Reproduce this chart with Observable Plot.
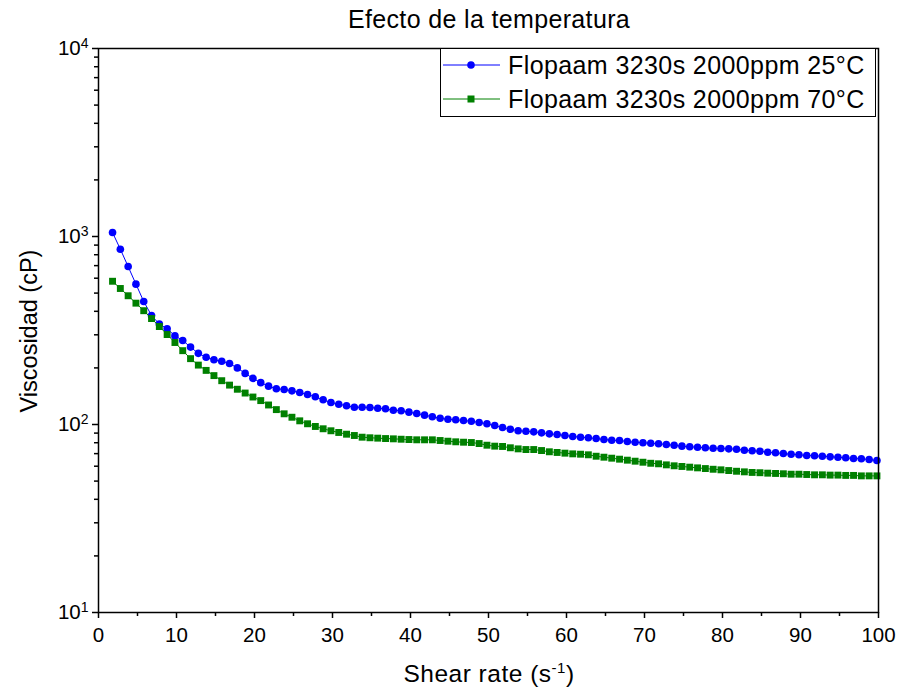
<!DOCTYPE html>
<html>
<head>
<meta charset="utf-8">
<script src="https://cdn.jsdelivr.net/npm/d3@7"></script>
<script src="https://cdn.jsdelivr.net/npm/@observablehq/plot@0.6"></script>
<style>
  html, body { margin: 0; padding: 0; background: #fff; }
  #chart { width: 897px; height: 691px; }
</style>
</head>
<body>
<div id="chart"></div>
<script>
// ---- data ----
const titleText = "Efecto de la temperatura";
const seriesNames = ["Flopaam 3230s 2000ppm 25°C", "Flopaam 3230s 2000ppm 70°C"];
const seriesColors = ["#0000ff", "#008000"];

const shearRate = [
  1.8, 2.8, 3.8, 4.8, 5.8, 6.8, 7.8, 8.8, 9.8, 10.8,
  11.8, 12.8, 13.8, 14.8, 15.8, 16.8, 17.8, 18.8, 19.8, 20.8,
  21.8, 22.8, 23.8, 24.8, 25.8, 26.8, 27.8, 28.8, 29.8, 30.8,
  31.8, 32.8, 33.8, 34.8, 35.8, 36.8, 37.8, 38.8, 39.8, 40.8,
  41.8, 42.8, 43.8, 44.8, 45.8, 46.8, 47.8, 48.8, 49.8, 50.8,
  51.8, 52.8, 53.8, 54.8, 55.8, 56.8, 57.8, 58.8, 59.8, 60.8,
  61.8, 62.8, 63.8, 64.8, 65.8, 66.8, 67.8, 68.8, 69.8, 70.8,
  71.8, 72.8, 73.8, 74.8, 75.8, 76.8, 77.8, 78.8, 79.8, 80.8,
  81.8, 82.8, 83.8, 84.8, 85.8, 86.8, 87.8, 88.8, 89.8, 90.8,
  91.8, 92.8, 93.8, 94.8, 95.8, 96.8, 97.8, 98.8, 99.8
];

const visc25 = [
  1050, 856, 692, 558, 451, 380, 342, 323, 296, 280,
  258, 239, 228, 221, 217, 211, 200, 187, 176, 167,
  160, 155, 153.5, 151, 148, 144.4, 140.4, 135.3, 130.9, 128.2,
  125.8, 123.6, 123.6, 123.2, 122.1, 121.2, 119.1, 118.3, 116.3, 114.4,
  112.1, 109.9, 108.0, 106.7, 105.9, 105.0, 104.1, 102.5, 100.9, 98.8,
  96.4, 94.4, 92.6, 92.1, 91.4, 90.3, 89.2, 88.5, 87.4, 86.3,
  85.6, 85.0, 84.2, 83.2, 82.5, 82.2, 81.2, 80.5, 79.9, 79.5,
  79.0, 78.3, 77.6, 76.7, 76.1, 75.7, 75.2, 74.8, 74.5, 74.2,
  73.9, 73.0, 72.5, 72.1, 71.2, 70.7, 70.1, 69.5, 69.0, 68.4,
  68.2, 67.8, 67.3, 67.0, 66.5, 65.9, 65.7, 65.1, 64.3
];

const visc70 = [
  578, 529, 484, 442, 403, 366, 332, 301, 273, 247,
  224, 207, 194, 182, 171, 162, 154, 147, 140, 134,
  127, 120, 114, 109.3, 104.6, 100.9, 97.6, 94.9, 92.6, 90.7,
  88.8, 87.4, 85.6, 85.0, 84.6, 84.2, 83.9, 83.5, 83.2, 82.9,
  82.9, 82.9, 82.2, 81.5, 80.9, 80.5, 80.2, 79.2, 77.6, 76.7,
  76.4, 75.2, 74.2, 73.6, 73.6, 72.7, 71.6, 71.0, 70.4, 69.8,
  69.5, 69.0, 67.8, 67.0, 66.2, 65.4, 64.6, 63.8, 63.0, 62.2,
  61.8, 61.0, 60.3, 59.8, 59.3, 58.8, 58.3, 57.8, 57.4, 56.9,
  56.4, 56.0, 55.6, 55.4, 55.1, 54.9, 54.7, 54.4, 54.4, 54.2,
  54.0, 54.0, 53.8, 53.8, 53.6, 53.6, 53.3, 53.3, 53.3
];

const xMajorTicks = [0, 10, 20, 30, 40, 50, 60, 70, 80, 90, 100];
const xMinorTicks = [5, 15, 25, 35, 45, 55, 65, 75, 85, 95];
const yMajorTicks = [10, 100, 1000, 10000];
const yMinorTicks = [20, 30, 40, 50, 60, 70, 80, 90,
                     200, 300, 400, 500, 600, 700, 800, 900,
                     2000, 3000, 4000, 5000, 6000, 7000, 8000, 9000];

// ---- table built from the arrays ----
const rows25 = shearRate.map((x, i) => ({x, y: visc25[i]}));
const rows70 = shearRate.map((x, i) => ({x, y: visc70[i]}));

const FONT = "'Liberation Sans', Arial, Helvetica, sans-serif";

const chart = Plot.plot({
  width: 897,
  height: 691,
  marginTop: 48,
  marginRight: 19,
  marginBottom: 79,
  marginLeft: 98,
  style: {fontFamily: FONT, fontSize: "20px", color: "black", background: "white", overflow: "visible"},
  x: {domain: [0, 100]},
  y: {type: "log", domain: [10, 10000]},
  marks: [
    Plot.axisX({ticks: xMajorTicks, tickSize: 6, tickPadding: 9, strokeWidth: 1.5, tickFormat: d => String(d), label: null, fontSize: 20.5}),
    Plot.axisX({ticks: xMinorTicks, tickSize: 4, strokeWidth: 1.5, tickFormat: () => "", label: null}),
    Plot.axisY({ticks: yMajorTicks, tickSize: 6, tickPadding: 4, strokeWidth: 1.5, tickFormat: d => "E" + Math.round(Math.log10(d)), label: null, fontSize: 20.5}),
    Plot.axisY({ticks: yMinorTicks, tickSize: 4, strokeWidth: 1.5, tickFormat: () => "", label: null}),
    Plot.line(rows25, {x: "x", y: "y", stroke: seriesColors[0], strokeWidth: 1}),
    Plot.dot(rows25, {x: "x", y: "y", fill: seriesColors[0], r: 3.8, symbol: "circle"}),
    Plot.line(rows70, {x: "x", y: "y", stroke: seriesColors[1], strokeWidth: 1}),
    Plot.dot(rows70, {x: "x", y: "y", fill: seriesColors[1], r: 3.9, symbol: "square"}),
    Plot.frame({stroke: "black", strokeWidth: 1.5})
  ]
});

document.getElementById("chart").appendChild(chart);

const svg = d3.select(chart);

// y tick labels as 10 with superscript exponent
svg.selectAll("text").each(function() {
  const t = d3.select(this);
  const s = t.text();
  if (/^E\d+$/.test(s)) {
    const e = s.slice(1);
    t.text("10");
    t.append("tspan").attr("dy", "-0.5em").attr("font-size", "14px").text(e);
  }
});

// title
svg.append("text")
  .attr("x", 489).attr("y", 28)
  .attr("text-anchor", "middle")
  .attr("font-family", FONT).attr("font-size", 25)
  .attr("letter-spacing", "0.35px")
  .attr("fill", "black")
  .text(titleText);

// axis titles
const xl = svg.append("text")
  .attr("x", 489).attr("y", 682)
  .attr("text-anchor", "middle")
  .attr("font-family", FONT).attr("font-size", 24.5)
  .attr("letter-spacing", "0.5px")
  .attr("fill", "black");
xl.append("tspan").text("Shear rate (s");
xl.append("tspan").attr("dy", "-9").attr("font-size", 15).text("-1");
xl.append("tspan").attr("dy", "9").text(")");

svg.append("text")
  .attr("transform", "translate(37,331) rotate(-90)")
  .attr("text-anchor", "middle")
  .attr("font-family", FONT).attr("font-size", 23.5)
  .attr("fill", "black")
  .text("Viscosidad (cP)");

// legend
const lg = svg.append("g");
lg.append("rect")
  .attr("x", 440.5).attr("y", 48.5).attr("width", 435).attr("height", 68)
  .attr("fill", "white").attr("stroke", "black").attr("stroke-width", 1);
const rowY = [65, 99];
seriesNames.forEach((name, i) => {
  const y = rowY[i];
  lg.append("line").attr("x1", 443).attr("x2", 500).attr("y1", y).attr("y2", y)
    .attr("stroke", seriesColors[i]).attr("stroke-width", 1);
  if (i === 0) {
    lg.append("circle").attr("cx", 471).attr("cy", y).attr("r", 3.8).attr("fill", seriesColors[i]);
  } else {
    lg.append("rect").attr("x", 467.5).attr("y", y - 3.5).attr("width", 7).attr("height", 7).attr("fill", seriesColors[i]);
  }
  lg.append("text").attr("x", 508).attr("y", y + 9)
    .attr("text-anchor", "start")
    .attr("font-family", FONT).attr("font-size", 25)
    .attr("letter-spacing", "0.4px")
    .attr("fill", "black")
    .text(name);
});
</script>
</body>
</html>
